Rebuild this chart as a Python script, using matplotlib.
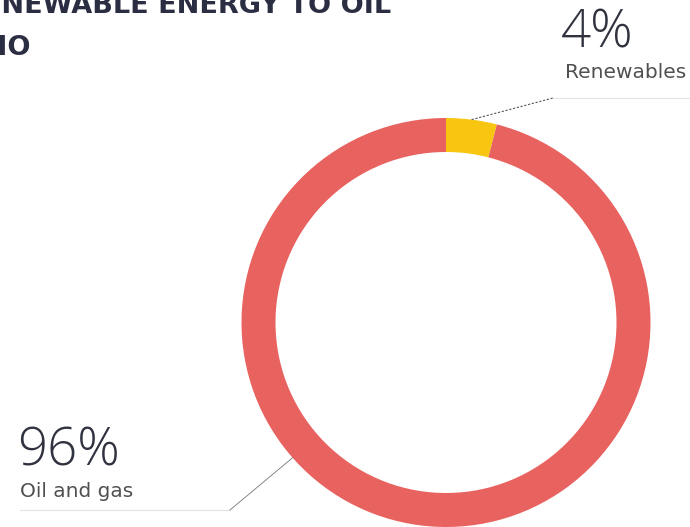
import numpy as np
import matplotlib
matplotlib.use("Agg")
import matplotlib.pyplot as plt

W, H = 690, 527

labels = ["Renewables", "Oil and gas"]
shares = [4, 96]
colors = ["#F8C611", "#E8625F"]

# ring geometry in pixels
CX, CY, R = 446, 322.5, 204.5
RING = 34


def fig_xy(x, y):
    return x / W, 1 - y / H


def ring_point(angle_deg):
    a = np.deg2rad(angle_deg)
    return CX + R * np.cos(a), CY - R * np.sin(a)


fig = plt.figure(figsize=(W / 100, H / 100), dpi=100)
ax = fig.add_axes([0, 0, 1, 1])
wedges, _ = ax.pie(shares, colors=colors, startangle=90, counterclock=False,
                   radius=1, wedgeprops=dict(width=RING / R, edgecolor="none"))
ax.set_xlim(-CX / R, (W - CX) / R)
ax.set_ylim((CY - H) / R, CY / R)
ax.set_aspect("auto")
ax.axis("off")

# title (cropped on the left in the source)
title_kw = dict(fontsize=19.5, fontweight="bold", color="#2B2D42", family="DejaVu Sans",
                ha="right", va="baseline")
fig.text(*fig_xy(391, 13), "RENEWABLE ENERGY TO OIL", **title_kw)
fig.text(*fig_xy(31, 55), "RATIO", **title_kw)

pct_kw = dict(fontsize=38, fontweight=300, color="#30333F", family="Open Sans",
              ha="left", va="baseline")
lab_kw = dict(fontsize=14.5, color="#505050", family="DejaVu Sans", ha="left", va="baseline")

# Renewables label
w = wedges[0]
mid = (w.theta1 + w.theta2) / 2
px, py = ring_point(mid)
fig.text(*fig_xy(561, 47), f"{shares[0]}%", **pct_kw)
fig.text(*fig_xy(565, 78), labels[0], **lab_kw)
fig.add_artist(plt.Line2D([553 / W, 1], [1 - 98 / H] * 2, color="#E3E3E3", lw=0.8,
                          transform=fig.transFigure))
fig.add_artist(plt.Line2D([px / W, 553 / W], [1 - py / H, 1 - 98 / H], color="#555555",
                          lw=0.8, ls=(0, (2, 1.5)), transform=fig.transFigure))

# Oil and gas label
px, py = ring_point(221.4)
fig.text(*fig_xy(17, 465), f"{shares[1]}%", **pct_kw)
fig.text(*fig_xy(20, 497), labels[1], **lab_kw)
fig.add_artist(plt.Line2D([20 / W, 230 / W], [1 - 510 / H] * 2, color="#E3E3E3", lw=0.8,
                          transform=fig.transFigure))
fig.add_artist(plt.Line2D([px / W, 230 / W], [1 - py / H, 1 - 510 / H], color="#777777",
                          lw=0.6, transform=fig.transFigure))

fig.savefig("out.png", dpi=100)
